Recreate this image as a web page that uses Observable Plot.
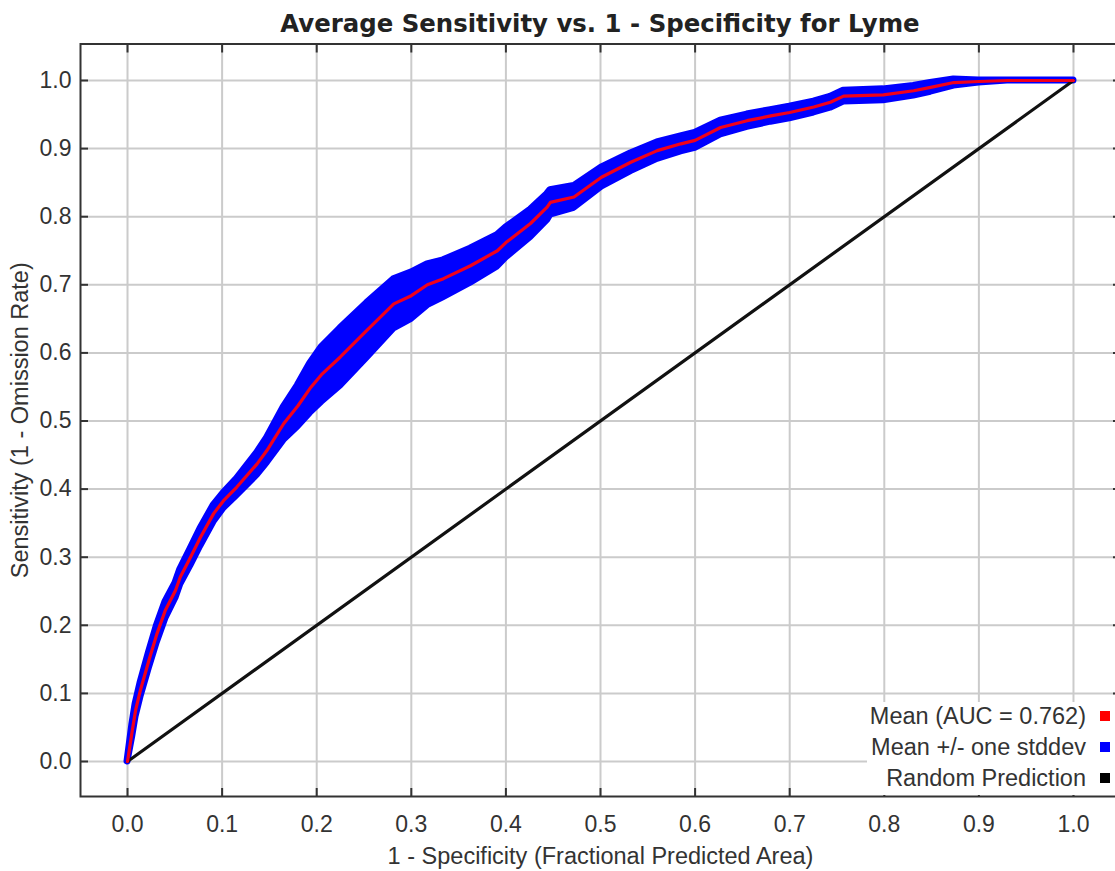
<!DOCTYPE html>
<html>
<head>
<meta charset="utf-8">
<script src="https://cdn.jsdelivr.net/npm/d3@7"></script>
<script src="https://cdn.jsdelivr.net/npm/@observablehq/plot@0.6"></script>
<style>
  html, body { margin: 0; padding: 0; background: #fff; overflow: hidden; }
  #wrap { position: relative; width: 1115px; height: 871px; overflow: hidden; }
  #title { width: 1200px; height: 42px; text-align: center; font: bold 24.4px "DejaVu Sans", sans-serif; color: #222; line-height: 42px; padding-top: 3px; box-sizing: border-box; white-space: nowrap; }
  #legend { position: absolute; left: 867px; top: 702px; width: 260px; height: 93px; background: #fff; font: 23.5px "Liberation Sans", Arial, sans-serif; color: #333; }
  .row { position: absolute; right: 0; width: 260px; height: 23px; line-height: 23px; }
  .row .lab { position: absolute; right: 41px; white-space: nowrap; }
  .row .sw { position: absolute; left: 233px; top: 6px; width: 10px; height: 10px; }
</style>
</head>
<body>
<div id="wrap">
  <div id="title"></div>
  <div id="chart"></div>
  <div id="legend"></div>
</div>
<script>
// ---- data ----
const titleText = "Average Sensitivity vs. 1 - Specificity for Lyme";
const xLabel = "1 - Specificity (Fractional Predicted Area)";
const yLabel = "Sensitivity (1 - Omission Rate)";

const tickValues = [0, 0.1, 0.2, 0.3, 0.4, 0.5, 0.6, 0.7, 0.8, 0.9, 1.0];

// 1 - specificity (fractional predicted area)
const fpr = [0, 0.005, 0.0085, 0.0137, 0.0225, 0.031, 0.040, 0.0507, 0.0558, 0.0666,
  0.077, 0.091, 0.1015, 0.1156, 0.137, 0.1475, 0.165, 0.18, 0.193, 0.205,
  0.225, 0.253, 0.2815, 0.3, 0.317, 0.334, 0.3626, 0.391, 0.4, 0.426,
  0.4436, 0.447, 0.472, 0.501, 0.532, 0.56, 0.585, 0.6, 0.627, 0.655,
  0.68, 0.7, 0.7255, 0.743, 0.757, 0.799, 0.831, 0.849, 0.8735, 0.9, 0.93, 1];
// mean sensitivity
const meanTpr = [0, 0.045, 0.075, 0.105, 0.148, 0.187, 0.222, 0.251, 0.271, 0.300,
  0.329, 0.364, 0.383, 0.403, 0.437, 0.457, 0.496, 0.522, 0.548, 0.568,
  0.594, 0.633, 0.672, 0.684, 0.7, 0.709, 0.728, 0.75, 0.762, 0.79,
  0.814, 0.821, 0.829, 0.858, 0.88, 0.897, 0.907, 0.912, 0.931, 0.941,
  0.948, 0.953, 0.961, 0.968, 0.977, 0.979, 0.985, 0.99, 0.997, 0.9985, 1, 1];
// one standard deviation
const sdTpr = [0, 0.008, 0.009, 0.010, 0.011, 0.012, 0.012, 0.011, 0.011, 0.012,
  0.0125, 0.012, 0.011, 0.012, 0.016, 0.018, 0.024, 0.030, 0.036, 0.040,
  0.042, 0.040, 0.036, 0.034, 0.030, 0.027, 0.025, 0.023, 0.022, 0.020,
  0.019, 0.018, 0.016, 0.014, 0.013, 0.012, 0.011, 0.011, 0.010, 0.009,
  0.0085, 0.0085, 0.008, 0.008, 0.008, 0.008, 0.007, 0.0065, 0.0045, 0.0015, 0, 0];

const randomX = [0, 1];
const randomY = [0, 1];

const legendLabels = ["Mean (AUC = 0.762)", "Mean +/- one stddev", "Random Prediction"];
const legendColors = ["#ff0000", "#0000ff", "#000000"];

// ---- build ----
const rows = fpr.map((x, i) => ({x, m: meanTpr[i], lo: meanTpr[i] - sdTpr[i], hi: meanTpr[i] + sdTpr[i]}));
const randomPts = randomX.map((x, i) => ({x, y: randomY[i]}));
const fmt = d3.format(".1f");
const none = () => "";
const gridStyle = {stroke: "#cbcbcb", strokeOpacity: 1, strokeWidth: 2};

document.getElementById("title").textContent = titleText;

const chart = Plot.plot({
  width: 1122,
  height: 829,
  marginLeft: 80,
  marginRight: 2,
  marginTop: 1.5,
  marginBottom: 75,
  style: {maxWidth: "none", background: "white", fontFamily: "'Liberation Sans', Arial, sans-serif", fontSize: "23px", color: "#333", overflow: "visible"},
  x: {domain: [-0.0497, 1.0497], label: null},
  y: {domain: [-0.0514, 1.0536], label: null},
  marks: [
    Plot.gridX(tickValues, gridStyle),
    Plot.gridY(tickValues, gridStyle),
    Plot.areaY(rows, {x: "x", y1: "lo", y2: "hi", fill: "#0000ff", stroke: "#0000ff", strokeWidth: 7, strokeLinejoin: "round"}),
    Plot.line(randomPts, {x: "x", y: "y", stroke: "#111", strokeWidth: 3.2}),
    Plot.line(rows, {x: "x", y: "m", stroke: "#f2001a", strokeWidth: 3.2}),
    Plot.frame({stroke: "#333", strokeWidth: 2}),
    // inward tick marks on all four sides
    Plot.axisX(tickValues, {anchor: "bottom", tickSize: -8, tickFormat: none, strokeWidth: 2, label: null}),
    Plot.axisX(tickValues, {anchor: "top", tickSize: -8, tickFormat: none, strokeWidth: 2, label: null}),
    Plot.axisY(tickValues, {anchor: "left", tickSize: -8, tickFormat: none, strokeWidth: 2, label: null}),
    Plot.axisY(tickValues, {anchor: "right", tickSize: -8, tickFormat: none, strokeWidth: 2, label: null}),
    // tick labels
    Plot.axisX(tickValues, {anchor: "bottom", tickSize: 0, tickPadding: 19, tickFormat: fmt, label: null}),
    Plot.axisY(tickValues, {anchor: "left", tickSize: 0, tickPadding: 9, tickFormat: fmt, label: null}),
    // axis titles
    Plot.text([xLabel], {frameAnchor: "bottom", textAnchor: "middle", lineAnchor: "middle", dy: 60, text: d => d, fontSize: 23.5, fill: "#333"}),
    Plot.text([yLabel], {frameAnchor: "left", textAnchor: "middle", lineAnchor: "middle", dx: -60, rotate: -90, text: d => d, fontSize: 23.5, fill: "#333"})
  ]
});
document.getElementById("chart").appendChild(chart);

const legend = document.getElementById("legend");
legendLabels.forEach((lab, i) => {
  const r = document.createElement("div");
  r.className = "row";
  r.style.top = (3 + 31 * i) + "px";
  const t = document.createElement("span");
  t.className = "lab";
  t.textContent = lab;
  const s = document.createElement("span");
  s.className = "sw";
  s.style.background = legendColors[i];
  r.appendChild(t);
  r.appendChild(s);
  legend.appendChild(r);
});
</script>
</body>
</html>
